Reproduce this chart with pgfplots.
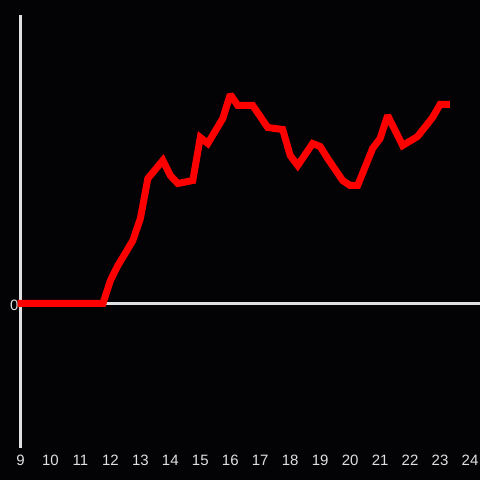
\documentclass[border=0pt]{standalone}
\usepackage{fontspec}
\setmainfont{Liberation Sans}
\usepackage{pgfplots}
\pgfplotsset{compat=1.18}
\definecolor{bg}{HTML}{030205}
\definecolor{ax}{HTML}{E0E0E0}
\begin{document}
\begin{tikzpicture}[x=1pt,y=1pt]
\fill[bg] (0,0) rectangle (480,480);
\useasboundingbox (0,0) rectangle (480,480);
\begin{axis}[
  at={(20.5pt,31.5pt)}, anchor=south west,
  scale only axis, width=459.5pt, height=433pt,
  xmin=9, xmax=24.3333, ymin=-145, ymax=288,
  axis line style={draw=none},
  tick style={draw=none},
  clip=false,
  xtick={9,...,24}, ytick={0},
  major tick length=0pt,
  tick label style={font=\fontsize{15}{17}\selectfont, text=ax},
  /pgf/number format/assume math mode=true,
  xticklabel style={anchor=base, yshift=-17pt},
  yticklabel style={anchor=base east, xshift=1.5pt, yshift=-7pt},
]
\draw[ax, line width=3pt] (axis cs:9,-145) -- (axis cs:9,288);
\draw[ax, line width=3pt] (axis cs:9,0) -- (axis cs:24.3333,0);
\addplot[red, line width=7pt, line join=miter, miter limit=2] coordinates {
(8.9,0) (11.75,0) (12,23) (12.25,38) (12.75,63) (13,85) (13.25,125)
(13.75,143) (14,128) (14.25,120) (14.75,123) (15,166) (15.25,160)
(15.75,185) (16,209) (16.25,198) (16.75,198) (17.25,176) (17.75,174)
(18,148) (18.25,138) (18.75,160) (19,157) (19.25,145) (19.75,123)
(20,118) (20.25,118) (20.75,155) (21,165) (21.25,188) (21.75,158)
(22.25,167) (22.75,186) (23,199) (23.33,199)
};
\end{axis}
\end{tikzpicture}
\end{document}
